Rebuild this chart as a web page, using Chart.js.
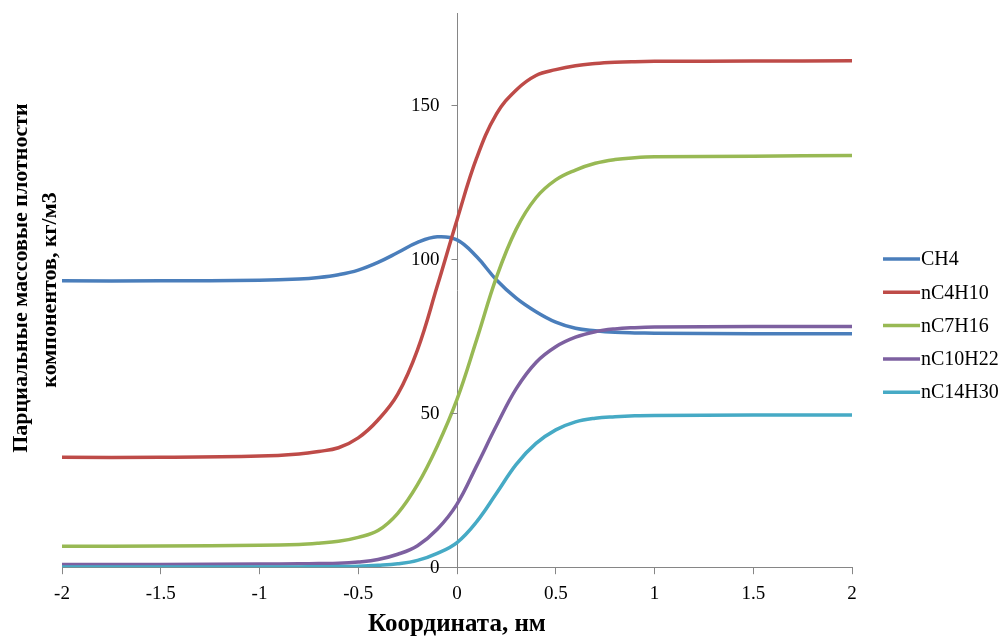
<!DOCTYPE html>
<html>
<head>
<meta charset="utf-8">
<script src="https://cdn.jsdelivr.net/npm/chart.js@4/dist/chart.umd.min.js"></script>
<style>
  html, body { margin: 0; padding: 0; background: #fff; }
  #wrap { width: 1005px; height: 637px; }
</style>
</head>
<body>
<div id="wrap"><canvas id="chart"></canvas></div>
<script>
const xs      = [-2, -1.5, -1, -0.8, -0.7, -0.6, -0.5, -0.4, -0.3, -0.2, -0.1, 0, 0.1, 0.2, 0.3, 0.4, 0.5, 0.6, 0.7, 0.8, 0.9, 1, 1.5, 2];
const ch4     = [93, 93, 93.2, 93.6, 94.1, 95, 96.5, 99, 102.2, 105.5, 107.3, 106.3, 100.8, 93.3, 87.4, 83, 79.6, 77.6, 76.8, 76.3, 76.1, 76, 75.8, 75.8];
const nC4H10  = [35.7, 35.7, 36.1, 36.8, 37.6, 38.8, 42, 47.8, 56.2, 70.6, 91.3, 112.8, 133, 147.2, 155, 159.7, 161.6, 162.9, 163.6, 164, 164.2, 164.3, 164.4, 164.5];
const nC7H16  = [6.8, 6.9, 7.1, 7.4, 7.8, 8.4, 9.7, 11.9, 17.5, 26.8, 39.3, 54.5, 74, 94.2, 109.8, 120, 125.8, 129, 131.2, 132.4, 133, 133.3, 133.5, 133.7];
const nC10H22 = [0.9, 0.9, 1.0, 1.1, 1.2, 1.3, 1.7, 2.5, 4.2, 7, 12.3, 20.5, 33, 46, 58, 66.5, 71.6, 74.7, 76.5, 77.4, 77.8, 78, 78.2, 78.2];
const nC14H30 = [0.1, 0.1, 0.1, 0.1, 0.15, 0.2, 0.3, 0.6, 1.1, 2.2, 4.5, 8.0, 14.8, 24, 33.4, 40.2, 44.6, 47.2, 48.4, 48.9, 49.2, 49.3, 49.4, 49.4];

const seriesNames  = ['CH4', 'nC4H10', 'nC7H16', 'nC10H22', 'nC14H30'];
const seriesValues = [ch4, nC4H10, nC7H16, nC10H22, nC14H30];
const colors       = ['#4A7EBB', '#BE4B48', '#98B954', '#7D60A0', '#46AAC5'];

const yTicks = [0, 50, 100, 150];
const yTitle = ['Парциальные массовые плотности', 'компонентов, кг/м3'];
const xTitle = 'Координата, нм';

const axisColor = '#868686';
const serif = '"Liberation Serif", "Times New Roman", serif';

// legend drawn by hand so it sits where Excel put it
const legendPlugin = {
  id: 'sideLegend',
  afterDraw(chart) {
    const ctx = chart.ctx;
    ctx.save();
    ctx.font = '20px ' + serif;
    ctx.textBaseline = 'middle';
    chart.data.datasets.forEach((ds, i) => {
      const y = 259 + i * 33.3;
      ctx.strokeStyle = ds.borderColor;
      ctx.lineWidth = 3.5;
      ctx.beginPath();
      ctx.moveTo(883, y);
      ctx.lineTo(920, y);
      ctx.stroke();
      ctx.fillStyle = '#000';
      ctx.fillText(ds.label, 921, y + 1);
    });
    ctx.restore();
  }
};

// y axis sits at x = 0, its labels and tick marks go on its left side
const yAxisPlugin = {
  id: 'centerYAxis',
  afterDraw(chart) {
    const ctx = chart.ctx;
    const xs_ = chart.scales.x, ys_ = chart.scales.y;
    const px = Math.round(xs_.getPixelForValue(0)) + 0.5;
    ctx.save();
    ctx.strokeStyle = axisColor;
    ctx.lineWidth = 1;
    ctx.font = '19px ' + serif;
    ctx.fillStyle = '#000';
    ctx.textAlign = 'right';
    ctx.textBaseline = 'middle';
    yTicks.forEach(v => {
      const py = Math.round(ys_.getPixelForValue(v)) + 0.5;
      ctx.beginPath();
      ctx.moveTo(px - 6, py);
      ctx.lineTo(px, py);
      ctx.stroke();
      ctx.fillText(String(v), px - 18, py + 1);
    });
    ctx.restore();
  }
};

const yTitlePlugin = {
  id: 'yTitle',
  afterDraw(chart) {
    const ctx = chart.ctx;
    ctx.save();
    ctx.rotate(-Math.PI / 2);
    ctx.font = 'bold 22px ' + serif;
    ctx.fillStyle = '#000';
    ctx.textAlign = 'center';
    ctx.textBaseline = 'middle';
    ctx.fillText(yTitle[0], -278, 21);
    ctx.fillText(yTitle[1], -290, 50);
    ctx.restore();
  }
};

new Chart(document.getElementById('chart'), {
  type: 'line',
  data: {
    datasets: seriesNames.map((name, i) => ({
      label: name,
      data: xs.map((x, j) => ({ x, y: seriesValues[i][j] })),
      borderColor: colors[i],
      backgroundColor: colors[i],
      borderWidth: 3.5,
      pointRadius: 0,
      tension: 0.4,
      fill: false,
      order: seriesNames.length - i,
    })),
  },
  options: {
    responsive: true,
    maintainAspectRatio: false,
    animation: false,
    events: [],
    layout: { padding: { left: 62, right: 153, top: 13, bottom: 0 } },
    scales: {
      x: {
        type: 'linear',
        min: -2,
        max: 2,
        ticks: { stepSize: 0.5, color: '#000', font: { family: serif, size: 19 }, padding: 8, maxRotation: 0,
                 callback: v => String(v) },
        grid: { drawOnChartArea: false, drawTicks: true, tickLength: 7, color: axisColor },
        border: { display: true, color: axisColor, width: 1 },
        title: { display: true, text: xTitle, color: '#000',
                 font: { family: serif, size: 25, weight: 'bold', lineHeight: 0.96 }, padding: { top: 0, bottom: 0 } },
      },
      y: {
        type: 'linear',
        position: { x: 0 },
        min: 0,
        max: 180,
        ticks: { display: false },
        grid: { drawOnChartArea: false, drawTicks: false },
        border: { display: true, color: axisColor, width: 1 },
      },
    },
    plugins: {
      legend: { display: false },
      tooltip: { enabled: false },
    },
  },
  plugins: [legendPlugin, yAxisPlugin, yTitlePlugin],
});
</script>
</body>
</html>
